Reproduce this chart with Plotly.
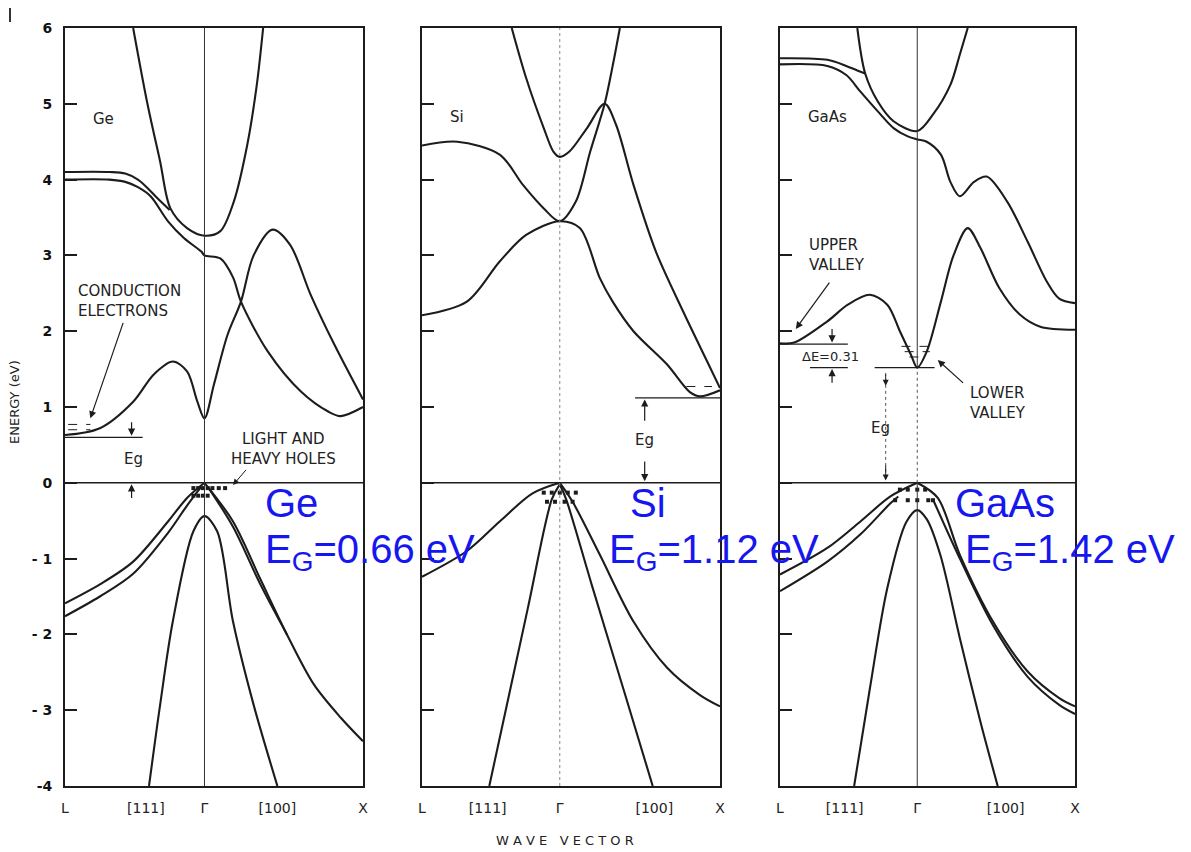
import plotly.graph_objects as go

# ---------------- axis / label data ----------------
PANELS = ["Ge", "Si", "GaAs"]
K_L = [-0.88, -0.86, -0.87]            # position of L point (Gamma = 0, X = 1)
K_111 = [-0.37, -0.45, -0.46]
K_100 = [0.46, 0.59, 0.56]
XTICK_TEXT = ["L", "[111]", "Γ", "[100]", "X"]
Y_TICKS = [-4, -3, -2, -1, 0, 1, 2, 3, 4, 5, 6]
Y_TICK_TEXT = ["-4", "- 3", "- 2", "- 1", "0", "1", "2", "3", "4", "5", "6"]

# ---------------- Ge bands ----------------
GE_CB_PARAB_K = [-0.45, -0.36, -0.28, -0.215, -0.11, 0.0, 0.10, 0.185, 0.27, 0.33, 0.37]
GE_CB_PARAB_E = [6.0, 5.0, 4.24, 3.62, 3.36, 3.26, 3.32, 3.71, 4.46, 5.25, 6.0]
GE_CB_PAIRU_K = [-0.88, -0.6, -0.5, -0.42, -0.36, -0.30, -0.22]
GE_CB_PAIRU_E = [4.10, 4.10, 4.08, 4.00, 3.89, 3.76, 3.60]
GE_CB_PAIRL_K = [-0.88, -0.6, -0.5, -0.42, -0.34, -0.23, -0.13, -0.02, 0.0, 0.10, 0.18, 0.23, 0.40, 0.61, 0.78, 0.86, 1.0]
GE_CB_PAIRL_E = [4.00, 4.00, 3.97, 3.90, 3.78, 3.45, 3.23, 3.05, 3.00, 2.96, 2.71, 2.39, 1.73, 1.20, 0.94, 0.88, 1.00]
GE_CB_LOW_K = [-0.88, -0.66, -0.45, -0.32, -0.20, -0.11, -0.045, 0.0, 0.06, 0.145, 0.23, 0.31, 0.43, 0.54, 0.67, 0.82, 1.0]
GE_CB_LOW_E = [0.63, 0.72, 1.07, 1.43, 1.60, 1.47, 1.07, 0.85, 1.30, 1.95, 2.39, 3.00, 3.34, 3.14, 2.48, 1.82, 1.10]
GE_VB_LU_K = [-0.88, -0.66, -0.45, -0.23, -0.11, 0.0]
GE_VB_LU_E = [-1.59, -1.34, -1.04, -0.51, -0.20, 0.0]
GE_VB_LL_K = [-0.88, -0.66, -0.45, -0.23, -0.11, -0.02]
GE_VB_LL_E = [-1.76, -1.50, -1.20, -0.66, -0.30, -0.05]
GE_VB_R1_K = [0.0, 0.18, 0.35, 0.52, 0.69, 0.86, 1.0]
GE_VB_R1_E = [0.0, -0.51, -1.26, -2.00, -2.66, -3.10, -3.41]
GE_VB_R2_K = [0.02, 0.18, 0.35, 0.52]
GE_VB_R2_E = [-0.05, -0.58, -1.33, -2.00]
GE_SO_K = [-0.35, -0.28, -0.20, -0.07, 0.0, 0.08, 0.18, 0.31, 0.46]
GE_SO_E = [-4.0, -2.93, -1.83, -0.64, -0.44, -0.64, -1.83, -2.93, -4.0]

# ---------------- Si bands ----------------
SI_CB_A_K = [-0.30, -0.21, -0.10, -0.04, 0.0, 0.06, 0.17, 0.28, 0.35, 0.46, 0.60, 0.77, 0.92, 1.0]
SI_CB_A_E = [6.0, 5.34, 4.68, 4.37, 4.30, 4.37, 4.68, 5.00, 4.73, 3.93, 3.05, 2.26, 1.60, 1.25]
SI_CB_B_K = [-0.86, -0.64, -0.375, -0.23, -0.10, 0.0, 0.10, 0.19, 0.28, 0.33, 0.375]
SI_CB_B_E = [4.45, 4.50, 4.33, 3.93, 3.62, 3.45, 3.71, 4.37, 5.00, 5.50, 6.0]
SI_CB_C_K = [-0.86, -0.58, -0.375, -0.21, 0.0, 0.125, 0.25, 0.33, 0.46, 0.67, 0.81, 0.875, 1.0]
SI_CB_C_E = [2.21, 2.39, 2.92, 3.27, 3.45, 3.36, 2.70, 2.39, 2.00, 1.56, 1.20, 1.14, 1.22]
SI_VB_L_K = [-0.86, -0.58, -0.375, -0.17, 0.0]
SI_VB_L_E = [-1.24, -0.90, -0.51, -0.14, 0.0]
SI_VB_R_K = [0.0, 0.08, 0.25, 0.46, 0.67, 0.875, 1.0]
SI_VB_R_E = [0.0, -0.25, -0.95, -1.83, -2.44, -2.80, -2.95]
SI_LH_R_K = [0.0, 0.04, 0.20, 0.40, 0.58]
SI_LH_R_E = [-0.02, -0.22, -1.35, -2.74, -4.0]
SI_LH_L_K = [0.0, -0.05, -0.20, -0.44]
SI_LH_L_E = [-0.02, -0.22, -1.66, -4.0]

# ---------------- GaAs bands ----------------
GA_CB_PARAB_K = [-0.38, -0.33, -0.25, -0.15, 0.0, 0.10, 0.21, 0.27, 0.32]
GA_CB_PARAB_E = [6.0, 5.40, 5.03, 4.77, 4.64, 4.86, 5.25, 5.65, 6.0]
GA_CB_PAIRU_K = [-0.87, -0.57, -0.45, -0.38, -0.33]
GA_CB_PAIRU_E = [5.60, 5.58, 5.50, 5.44, 5.40]
GA_CB_PAIRL_K = [-0.87, -0.57, -0.45, -0.36, -0.25, -0.15, -0.06, 0.0, 0.06, 0.15, 0.21, 0.27, 0.36, 0.44, 0.57, 0.70, 0.82, 0.90, 1.0]
GA_CB_PAIRL_E = [5.52, 5.50, 5.38, 5.16, 4.90, 4.68, 4.57, 4.53, 4.50, 4.33, 3.97, 3.78, 3.97, 4.04, 3.71, 3.18, 2.66, 2.43, 2.37]
GA_CB_LOW_K = [-0.87, -0.78, -0.57, -0.44, -0.30, -0.19, -0.11, -0.04, 0.0, 0.06, 0.15, 0.23, 0.32, 0.40, 0.52, 0.65, 0.78, 1.0]
GA_CB_LOW_E = [1.84, 1.85, 2.13, 2.35, 2.48, 2.35, 2.00, 1.69, 1.52, 1.73, 2.39, 3.00, 3.36, 3.10, 2.57, 2.22, 2.06, 2.02]
GA_VB_LU_K = [-0.87, -0.57, -0.36, -0.17, 0.0]
GA_VB_LU_E = [-1.21, -0.86, -0.51, -0.18, 0.0]
GA_VB_LL_K = [-0.87, -0.57, -0.36, -0.17, -0.12]
GA_VB_LL_E = [-1.43, -1.04, -0.68, -0.27, -0.18]
GA_VB_RU_K = [0.0, 0.13, 0.27, 0.48, 0.70, 0.90, 1.0]
GA_VB_RU_E = [0.0, -0.20, -0.95, -1.83, -2.49, -2.84, -2.95]
GA_VB_RL_K = [0.10, 0.27, 0.48, 0.70, 0.90, 1.0]
GA_VB_RL_E = [-0.22, -1.00, -1.88, -2.56, -2.93, -3.05]
GA_SO_K = [-0.40, -0.30, -0.19, -0.07, 0.0, 0.06, 0.146, 0.27, 0.40, 0.51]
GA_SO_E = [-4.0, -2.71, -1.39, -0.52, -0.36, -0.48, -0.95, -2.05, -3.15, -4.0]

# hole markers near Gamma
GE_HOLE_K = [-0.07, -0.04, -0.01, 0.02, 0.05, 0.09, 0.13, -0.07, -0.04, -0.01, 0.02]
GE_HOLE_E = [-0.07, -0.07, -0.07, -0.07, -0.07, -0.07, -0.07, -0.17, -0.17, -0.17, -0.17]
SI_HOLE_K = [-0.10, -0.05, 0.0, 0.05, 0.10, -0.08, -0.03, 0.03, 0.08]
SI_HOLE_E = [-0.13, -0.13, -0.13, -0.13, -0.13, -0.25, -0.25, -0.25, -0.25]
GA_HOLE_K = [-0.11, -0.06, 0.0, 0.05, -0.14, -0.06, 0.0, 0.07, 0.10]
GA_HOLE_E = [-0.09, -0.09, -0.09, -0.09, -0.23, -0.23, -0.23, -0.23, -0.23]

INK = "#1c1c1c"
BLUE = "rgb(22,22,240)"
W, H = 1191, 852
OFF = 8  # page body margin in the browser
X_DOM = [(65, 363), (422, 720), (780, 1075)]
Y_TOP, Y_BOT = 28, 786


def px_x(px):
    return (px - OFF) / W


def px_y(py):
    return 1 - (py - OFF) / H


fig = go.Figure()

BANDS = [
    [(GE_CB_PARAB_K, GE_CB_PARAB_E), (GE_CB_PAIRU_K, GE_CB_PAIRU_E), (GE_CB_PAIRL_K, GE_CB_PAIRL_E),
     (GE_CB_LOW_K, GE_CB_LOW_E), (GE_VB_LU_K, GE_VB_LU_E), (GE_VB_LL_K, GE_VB_LL_E),
     (GE_VB_R1_K, GE_VB_R1_E), (GE_VB_R2_K, GE_VB_R2_E), (GE_SO_K, GE_SO_E)],
    [(SI_CB_A_K, SI_CB_A_E), (SI_CB_B_K, SI_CB_B_E), (SI_CB_C_K, SI_CB_C_E),
     (SI_VB_L_K, SI_VB_L_E), (SI_VB_R_K, SI_VB_R_E), (SI_LH_R_K, SI_LH_R_E), (SI_LH_L_K, SI_LH_L_E)],
    [(GA_CB_PARAB_K, GA_CB_PARAB_E), (GA_CB_PAIRU_K, GA_CB_PAIRU_E), (GA_CB_PAIRL_K, GA_CB_PAIRL_E),
     (GA_CB_LOW_K, GA_CB_LOW_E), (GA_VB_LU_K, GA_VB_LU_E), (GA_VB_LL_K, GA_VB_LL_E),
     (GA_VB_RU_K, GA_VB_RU_E), (GA_VB_RL_K, GA_VB_RL_E), (GA_SO_K, GA_SO_E)],
]
HOLES = [(GE_HOLE_K, GE_HOLE_E), (SI_HOLE_K, SI_HOLE_E), (GA_HOLE_K, GA_HOLE_E)]

layout = {}
shapes = []
ann = []
for i in range(3):
    sx = "" if i == 0 else str(i + 1)
    xa, ya = "x" + sx, "y" + sx
    for k, e in BANDS[i]:
        fig.add_trace(go.Scatter(x=k, y=e, mode="lines", xaxis=xa, yaxis=ya,
                                 line=dict(color=INK, width=2.1, shape="spline", smoothing=0.9),
                                 hoverinfo="skip", showlegend=False))
    hk, he = HOLES[i]
    fig.add_trace(go.Scatter(x=hk, y=he, mode="markers", xaxis=xa, yaxis=ya,
                             marker=dict(color=INK, size=4, symbol="square"),
                             hoverinfo="skip", showlegend=False))
    x0, x1 = X_DOM[i]
    layout["xaxis" + sx] = dict(
        domain=[px_x(x0), px_x(x1)], range=[K_L[i], 1.0], anchor=ya, automargin=False,
        showgrid=False, zeroline=False, showline=True, linecolor=INK, linewidth=2, mirror=True,
        tickmode="array", tickvals=[K_L[i], K_111[i], 0, K_100[i], 1.0], ticktext=XTICK_TEXT,
        ticks="", tickfont=dict(family="DejaVu Sans", size=14, color="#222"), ticklabelstandoff=8,
    )
    layout["yaxis" + sx] = dict(
        domain=[px_y(Y_BOT), px_y(Y_TOP)], range=[-4, 6], anchor=xa, automargin=False,
        showgrid=False, zeroline=False, showline=True, linecolor=INK, linewidth=2, mirror=True,
        tickmode="array", tickvals=Y_TICKS, ticktext=Y_TICK_TEXT, ticks="inside", ticklen=12,
        tickwidth=1.5, tickcolor=INK, showticklabels=(i == 0),
        tickfont=dict(family="DejaVu Sans", size=14, color="#111", weight="bold"), ticklabelstandoff=8,
    )
    shapes.append(dict(type="line", xref=xa, yref=ya, x0=K_L[i], x1=1.0, y0=0, y1=0,
                       line=dict(color=INK, width=1.6)))

# Gamma lines
shapes.append(dict(type="line", xref="x", yref="y", x0=0, x1=0, y0=-4, y1=6, line=dict(color="#333", width=1)))
shapes.append(dict(type="line", xref="x2", yref="y2", x0=0, x1=0, y0=-4, y1=6, line=dict(color="#888", width=1, dash="dot")))
shapes.append(dict(type="line", xref="x3", yref="y3", x0=0, x1=0, y0=1.52, y1=6, line=dict(color="#333", width=1)))
shapes.append(dict(type="line", xref="x3", yref="y3", x0=0, x1=0, y0=0, y1=1.52, line=dict(color="#555", width=1, dash="dot")))
shapes.append(dict(type="line", xref="x3", yref="y3", x0=0, x1=0, y0=-4, y1=0, line=dict(color="#333", width=1)))


def hline(xa, ya, k0, k1, e, dash="solid", w=1.3):
    shapes.append(dict(type="line", xref=xa, yref=ya, x0=k0, x1=k1, y0=e, y1=e,
                       line=dict(color=INK, width=w, dash=dash)))


hline("x", "y", -0.88, -0.39, 0.60)
hline("x", "y", -0.86, -0.72, 0.77, "dash", 1)
hline("x", "y", -0.86, -0.72, 0.70, "dash", 1)
hline("x2", "y2", 0.47, 1.0, 1.12)
hline("x2", "y2", 0.79, 0.95, 1.27, "dash", 1)
hline("x3", "y3", -0.87, -0.44, 1.83)
hline("x3", "y3", -0.68, -0.44, 1.52)
hline("x3", "y3", -0.27, 0.11, 1.52)
hline("x3", "y3", -0.10, 0.10, 1.80, "dash", 1)
hline("x3", "y3", -0.08, 0.08, 1.73, "dash", 1)
hline("x3", "y3", -0.05, 0.05, 1.66, "dash", 1)
shapes.append(dict(type="line", xref="x3", yref="y3", x0=-0.2, x1=-0.2, y0=1.45, y1=0.05,
                   line=dict(color="#555", width=1, dash="dot")))
shapes.append(dict(type="line", xref="paper", yref="paper", x0=px_x(10), x1=px_x(10),
                   y0=px_y(8), y1=px_y(22), line=dict(color="#333", width=2)))

LF = dict(family="DejaVu Sans", size=14, color="#222")


def txt(xa, ya, k, e, s, xanchor="center", size=14, align="center"):
    f = dict(LF)
    f["size"] = size
    ann.append(dict(xref=xa, yref=ya, x=k, y=e, text=s, showarrow=False, xanchor=xanchor,
                    yanchor="middle", font=f, align=align))


def arrow(xa, ya, k0, e0, k1, e1, w=1.2):
    ann.append(dict(xref=xa, yref=ya, axref=xa, ayref=ya, x=k1, y=e1, ax=k0, ay=e0, text="",
                    showarrow=True, arrowhead=2, arrowsize=1.2, arrowwidth=w, arrowcolor=INK))


# Ge labels
txt("x", "y", -0.64, 4.8, "Ge", size=15)
txt("x", "y", -0.81, 2.40, "CONDUCTION<br>ELECTRONS", xanchor="left", size=15, align="left")
arrow("x", "y", -0.51, 2.13, -0.72, 0.85)
txt("x", "y", -0.45, 0.31, "Eg", size=15)
arrow("x", "y", -0.46, 0.82, -0.46, 0.62)
arrow("x", "y", -0.46, -0.22, -0.46, -0.02)
txt("x", "y", 0.50, 0.44, "LIGHT AND<br>HEAVY HOLES", size=15)
arrow("x", "y", 0.27, 0.19, 0.18, -0.03, 1)
# Si labels
txt("x2", "y2", -0.64, 4.83, "Si", size=15)
txt("x2", "y2", 0.53, 0.57, "Eg", size=15)
arrow("x2", "y2", 0.53, 0.80, 0.53, 1.10)
arrow("x2", "y2", 0.53, 0.30, 0.53, 0.02)
# GaAs labels
txt("x3", "y3", -0.57, 4.83, "GaAs", size=15)
txt("x3", "y3", -0.70, 3.00, "UPPER<br>VALLEY", xanchor="left", size=15, align="left")
arrow("x3", "y3", -0.55, 2.66, -0.77, 2.03)
txt("x3", "y3", -0.55, 1.66, "ΔE=0.31", size=13)
arrow("x3", "y3", -0.54, 2.05, -0.54, 1.85)
arrow("x3", "y3", -0.54, 1.30, -0.54, 1.50)
txt("x3", "y3", 0.32, 1.05, "LOWER<br>VALLEY", xanchor="left", size=15, align="left")
arrow("x3", "y3", 0.30, 1.30, 0.13, 1.62)
txt("x3", "y3", -0.23, 0.72, "Eg", size=15)
arrow("x3", "y3", -0.2, 1.45, -0.2, 1.28, 1)
arrow("x3", "y3", -0.2, 0.25, -0.2, 0.03, 1)

ann.append(dict(xref="paper", yref="paper", x=px_x(14), y=px_y(402), text="ENERGY (eV)", textangle=-90,
                xanchor="center", yanchor="middle", showarrow=False,
                font=dict(family="DejaVu Sans", size=13, color="#222")))
ann.append(dict(xref="paper", yref="paper", x=px_x(565), y=px_y(840), text="W A V E   V E C T O R",
                xanchor="center", yanchor="middle", showarrow=False,
                font=dict(family="DejaVu Sans", size=13, color="#222")))

BLUE_TEXT = [("Ge", 263, 503), ("E<sub>G</sub>=0.66 eV", 263, 552),
             ("Si", 628, 503), ("E<sub>G</sub>=1.12 eV", 607, 552),
             ("GaAs", 953, 503), ("E<sub>G</sub>=1.42 eV", 963, 552)]
for s, px, py in BLUE_TEXT:
    ann.append(dict(xref="paper", yref="paper", x=px_x(px), y=px_y(py), text=s, showarrow=False,
                    xanchor="left", yanchor="middle",
                    font=dict(family="Liberation Sans", size=40, color=BLUE)))

fig.update_layout(width=W, height=H, margin=dict(l=0, r=0, t=0, b=0, autoexpand=False),
                  paper_bgcolor="white", plot_bgcolor="white", shapes=shapes, annotations=ann,
                  **layout)
fig.write_html("out.html")
